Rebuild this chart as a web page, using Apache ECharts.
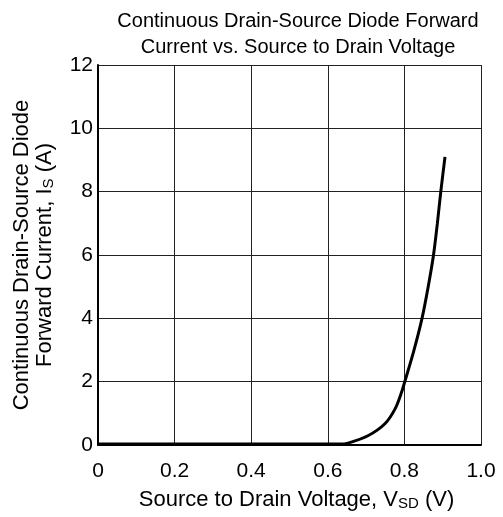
<!DOCTYPE html>
<html>
<head>
<meta charset="utf-8">
<script src="https://cdn.jsdelivr.net/npm/echarts@6/dist/echarts.min.js"></script>
<style>
  html, body { margin: 0; padding: 0; background: #fff; }
  #main { width: 503px; height: 517px; }
</style>
</head>
<body>
<div id="main"></div>
<script>
  // diode forward curve
  const vsd = [0, 0.2, 0.4, 0.6, 0.63, 0.653, 0.706, 0.749, 0.776, 0.793, 0.801, 0.824, 0.846, 0.862, 0.876, 0.886, 0.895, 0.906];
  const isd = [0.03, 0.03, 0.03, 0.03, 0.03, 0.06, 0.30, 0.67, 1.15, 1.68, 2.0, 2.95, 4.0, 4.99, 6.0, 6.99, 8.0, 9.1];
  const xTicks = ['0', '0.2', '0.4', '0.6', '0.8', '1.0'];

  const chart = echarts.init(document.getElementById('main'));
  const font = 'Liberation Sans, Arial, sans-serif';

  const option = {
    animation: false,
    title: {
      text: 'Continuous Drain-Source Diode Forward\nCurrent vs. Source to Drain Voltage',
      left: 293,
      top: 3,
      textAlign: 'center',
      textStyle: { fontFamily: font, fontSize: 20, fontWeight: 'normal', color: '#000', lineHeight: 26 }
    },
    grid: { left: 98, right: 22, top: 65, bottom: 72, outerBoundsMode: 'none', containLabel: false },
    xAxis: {
      type: 'value',
      min: 0, max: 1, interval: 0.2,
      name: 'Source to Drain Voltage, V{sub|SD} (V)',
      nameLocation: 'middle',
      nameGap: 43,
      nameTextStyle: {
        fontFamily: font, fontSize: 22, color: '#000', padding: [0, 0, 0, 14],
        rich: { sub: { fontFamily: font, fontSize: 15, color: '#000', padding: [8, 0, 0, 0] } }
      },
      axisLine: { show: true, lineStyle: { color: '#000', width: 2 } },
      axisTick: { show: false },
      axisLabel: {
        fontFamily: font, fontSize: 21, color: '#000', margin: 16,
        formatter: function (v) { return xTicks[Math.round(v / 0.2)]; }
      },
      splitLine: { show: true, lineStyle: { color: '#222', width: 1 } }
    },
    yAxis: {
      type: 'value',
      min: 0, max: 12, interval: 2,
      name: 'Continuous Drain-Source Diode\nForward Current, I{sub|S} (A)',
      nameLocation: 'middle',
      nameRotate: 90,
      nameGap: 42,
      nameTextStyle: {
        fontFamily: font, fontSize: 22, color: '#000', lineHeight: 23,
        rich: { sub: { fontFamily: font, fontSize: 15, color: '#000', padding: [8, 0, 0, 0] } }
      },
      axisLine: { show: true, lineStyle: { color: '#000', width: 2 } },
      axisTick: { show: false },
      axisLabel: { fontFamily: font, fontSize: 21, color: '#000', margin: 5 },
      splitLine: { show: true, lineStyle: { color: '#222', width: 1 } }
    },
    series: [
      {
        type: 'line',
        data: vsd.map((v, i) => [v, isd[i]]),
        smooth: 0.3,
        showSymbol: false,
        lineStyle: { color: '#000', width: 3 }
      }
    ]
  };

  chart.setOption(option);
</script>
</body>
</html>
